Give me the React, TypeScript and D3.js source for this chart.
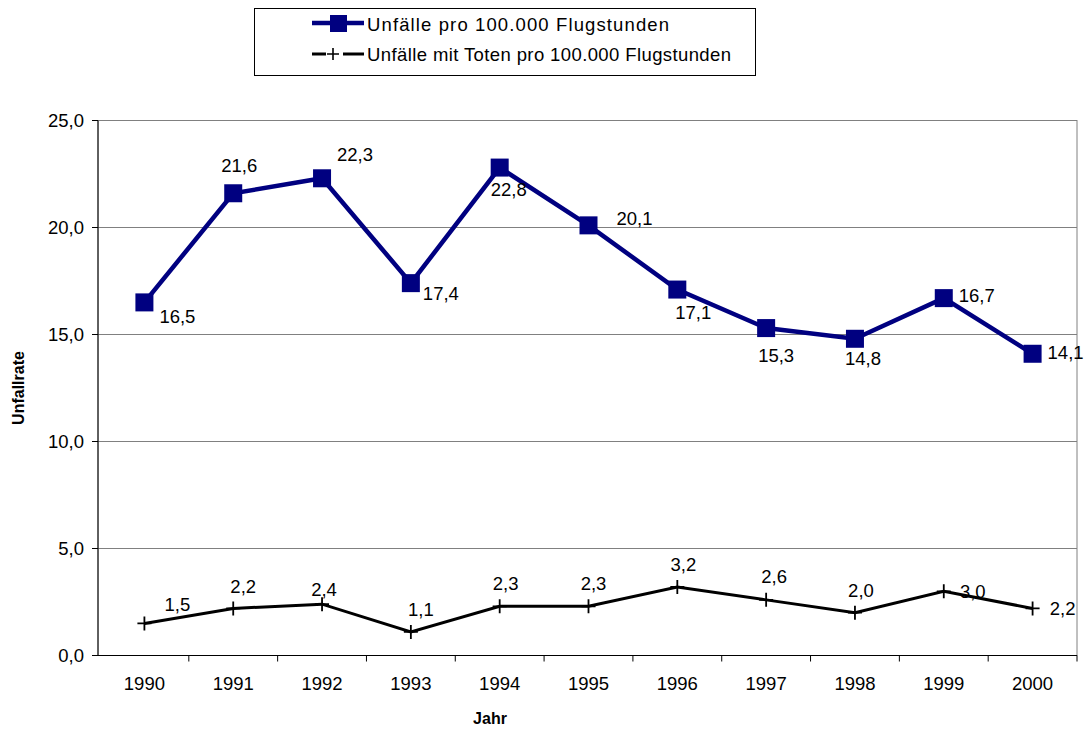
import React from "react";
import * as d3 from "d3";

const years = ["1990", "1991", "1992", "1993", "1994", "1995", "1996", "1997", "1998", "1999", "2000"];
const accidents = [16.5, 21.6, 22.3, 17.4, 22.8, 20.1, 17.1, 15.3, 14.8, 16.7, 14.1];
const fatalAccidents = [1.5, 2.2, 2.4, 1.1, 2.3, 2.3, 3.2, 2.6, 2.0, 3.0, 2.2];
const yTicks = [0, 5, 10, 15, 20, 25];

// label offsets (layout only), label centre relative to the marker
const accLabelOffsets = [
  [33, 14], [6, -28], [33, -24], [30, 10], [9, 22], [46, -7],
  [16, 23], [10, 27], [8, 20], [33, -3], [33, -1],
];
const fatalLabelOffsets = [
  [33, -19], [10, -22], [2, -15], [10, -22], [6, -23], [5, -23],
  [6, -23], [8, -23], [6, -22], [29, 0], [30, 0],
];

const W = 1087;
const H = 731;
const margin = { top: 120.5, right: 10, bottom: 75.5, left: 98 };
const font = "'Liberation Sans', Arial, sans-serif";
const fs = 18.5;
const fmt = (v: number) => v.toFixed(1).replace(".", ",");

export default function App() {
  const x = d3
    .scaleBand()
    .domain(years)
    .range([margin.left + 2, W - margin.right])
    .padding(0);
  const y = d3
    .scaleLinear()
    .domain([0, 25])
    .range([H - margin.bottom, margin.top]);
  const cx = (yr: string) => (x(yr) as number) + x.bandwidth() / 2;

  const line = d3
    .line<number>()
    .x((_, i) => cx(years[i]))
    .y((d) => y(d));

  const x0 = margin.left;
  const x1 = W - margin.right;
  const yBottom = y(0);
  const yTop = y(25);

  return (
    <svg
      width={W}
      height={H}
      style={{ position: "absolute", left: 0, top: 0, background: "#fff" }}
      fontFamily={font}
    >
      {/* legend */}
      <rect x={254.5} y={8.5} width={501} height={67} fill="#fff" stroke="#000" strokeWidth={1} />
      <line x1={312} x2={364} y1={23} y2={23} stroke="#000080" strokeWidth={4.5} />
      <rect x={330} y={15} width={17} height={17} fill="#000080" />
      <text x={367} y={31} fontSize={fs} fill="#000" textLength={302} lengthAdjust="spacing">
        Unfälle pro 100.000 Flugstunden
      </text>
      <line x1={312} x2={326} y1={54} y2={54} stroke="#000" strokeWidth={3} />
      <line x1={343} x2={364} y1={54} y2={54} stroke="#000" strokeWidth={3} />
      <path d="M327,54H339M333,48V60" stroke="#000" strokeWidth={1.6} fill="none" />
      <text x={367} y={61} fontSize={fs} fill="#000" textLength={364} lengthAdjust="spacing">
        Unfälle mit Toten pro 100.000 Flugstunden
      </text>

      {/* plot frame and grid */}
      <rect x={x0} y={yTop} width={x1 - x0} height={yBottom - yTop} fill="#fff" stroke="#808080" strokeWidth={1} />
      {yTicks.map((t) => (
        <g key={t}>
          <line x1={x0} x2={x1} y1={y(t)} y2={y(t)} stroke={t === 0 ? "#000" : "#808080"} strokeWidth={1} />
          <line x1={x0 - 6} x2={x0} y1={y(t)} y2={y(t)} stroke="#000" />
          <text x={x0 - 14} y={y(t) + 6.5} fontSize={fs} textAnchor="end" fill="#000">
            {fmt(t)}
          </text>
        </g>
      ))}
      <line x1={x0} x2={x0} y1={yTop} y2={yBottom} stroke="#000" />
      {years.map((yr, i) => (
        <g key={yr}>
          {i > 0 && (
            <line x1={x(yr) as number} x2={x(yr) as number} y1={yBottom} y2={yBottom + 6} stroke="#000" />
          )}
          {i === years.length - 1 && (
            <line x1={x1} x2={x1} y1={yBottom} y2={yBottom + 6} stroke="#000" />
          )}
          <text x={cx(yr)} y={yBottom + 34} fontSize={fs} textAnchor="middle" fill="#000">
            {yr}
          </text>
        </g>
      ))}

      {/* axis titles */}
      <text
        transform={`translate(24,${(yTop + yBottom) / 2}) rotate(-90)`}
        fontSize={16}
        fontWeight="bold"
        textAnchor="middle"
        fill="#000"
      >
        Unfallrate
      </text>
      <text x={490} y={724} fontSize={16} fontWeight="bold" textAnchor="middle" fill="#000">
        Jahr
      </text>

      {/* series: accidents */}
      <path d={line(accidents) ?? ""} fill="none" stroke="#000080" strokeWidth={4.5} strokeLinejoin="miter" />
      {accidents.map((v, i) => (
        <rect key={i} x={cx(years[i]) - 9} y={y(v) - 9} width={18} height={18} fill="#000080" />
      ))}
      {accidents.map((v, i) => (
        <text
          key={i}
          x={cx(years[i]) + accLabelOffsets[i][0]}
          y={y(v) + accLabelOffsets[i][1] + 6.5}
          fontSize={fs}
          textAnchor="middle"
          fill="#000"
        >
          {fmt(v)}
        </text>
      ))}

      {/* series: fatal accidents */}
      <path d={line(fatalAccidents) ?? ""} fill="none" stroke="#000" strokeWidth={3} />
      {fatalAccidents.map((v, i) => (
        <path
          key={i}
          d={`M${cx(years[i]) - 7},${y(v)}H${cx(years[i]) + 7}M${cx(years[i])},${y(v) - 7}V${y(v) + 7}`}
          stroke="#000"
          strokeWidth={1.8}
          fill="none"
        />
      ))}
      {fatalAccidents.map((v, i) => (
        <text
          key={i}
          x={cx(years[i]) + fatalLabelOffsets[i][0]}
          y={y(v) + fatalLabelOffsets[i][1] + 6.5}
          fontSize={fs}
          textAnchor="middle"
          fill="#000"
        >
          {fmt(v)}
        </text>
      ))}
    </svg>
  );
}
